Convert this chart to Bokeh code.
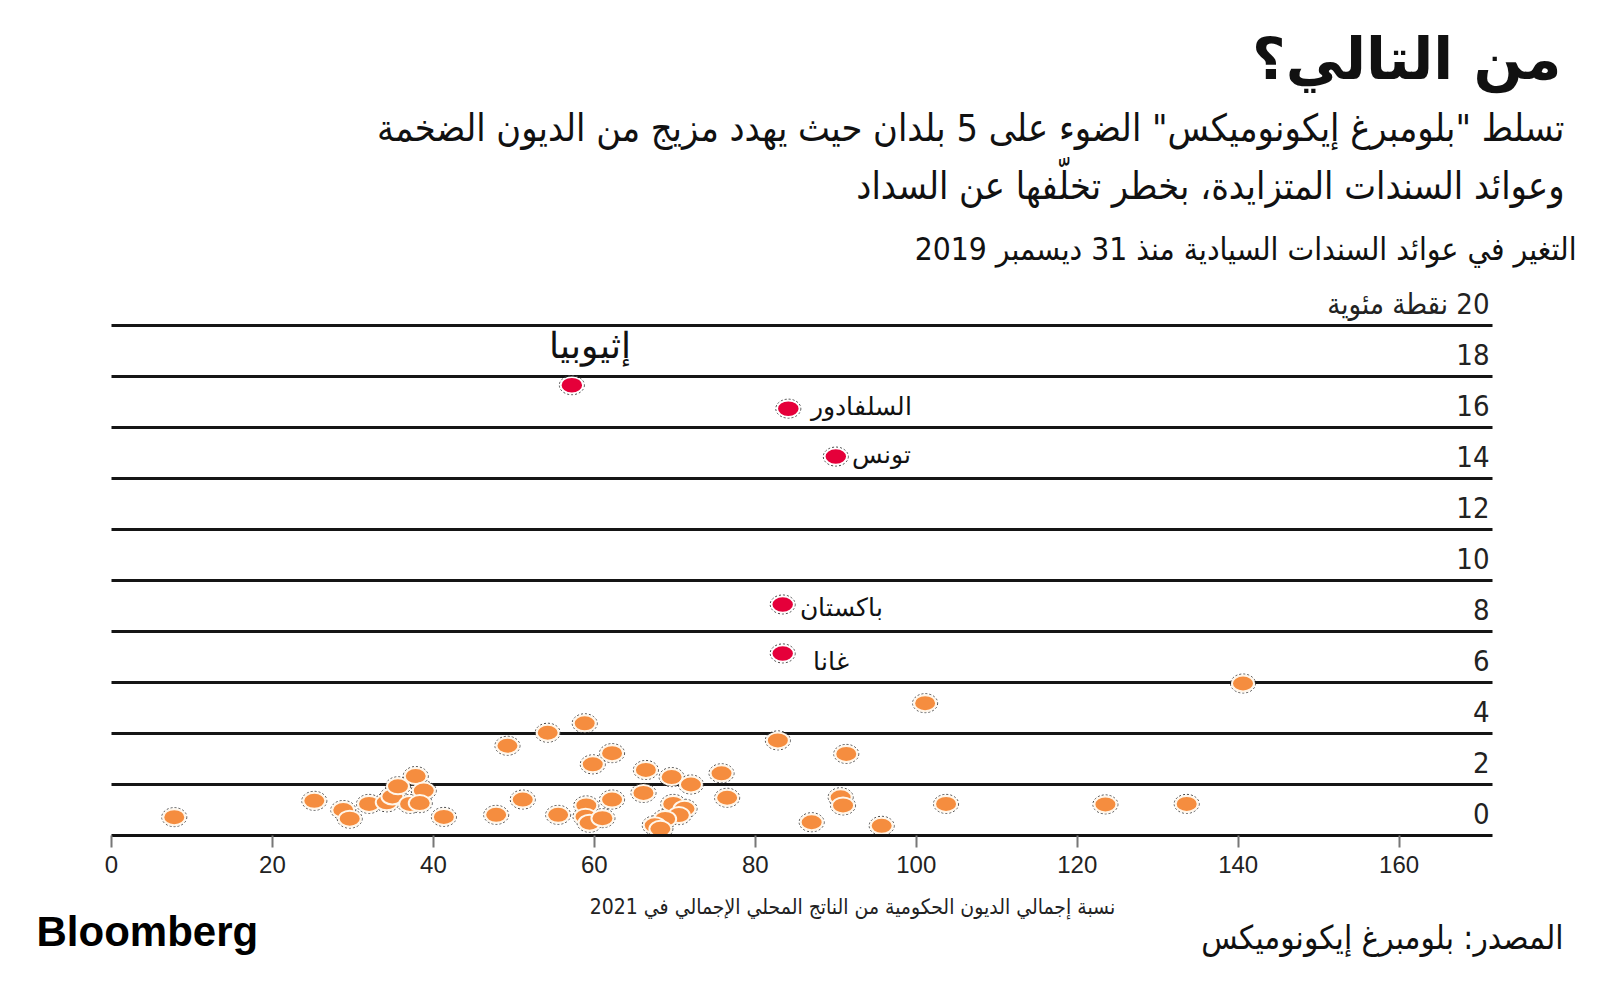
from bokeh.plotting import figure
from bokeh.models import Range1d, FixedTicker, ColumnDataSource
from bokeh.layouts import column
from bokeh.core.properties import value
from bokeh.embed import file_html
from bokeh.resources import INLINE

# ---------------- data ----------------
debt_other = [7.8, 25.2, 28.8, 29.6, 32.0, 34.2, 34.9, 35.6, 37.8, 38.8, 37.1, 38.3,
              41.3, 47.8, 49.2, 51.1, 54.2, 55.5, 58.8, 59.8, 62.2, 62.2, 59.0, 58.9,
              59.4, 61.0, 66.4, 69.6, 72.0, 66.1, 75.8, 76.5, 69.8, 71.2, 70.5, 68.8,
              67.5, 68.2, 82.8, 91.3, 90.6, 90.9, 87.0, 95.7, 101.1, 103.7, 123.5,
              133.6, 140.6]
yield_other = [0.72, 1.36, 1.00, 0.66, 1.24, 1.30, 1.53, 1.93, 2.33, 1.76, 1.24, 1.27,
               0.73, 0.81, 3.52, 1.41, 4.03, 0.81, 4.40, 2.79, 3.23, 1.41, 1.18, 0.74,
               0.50, 0.68, 2.57, 2.29, 2.00, 1.67, 2.44, 1.48, 1.24, 1.05, 0.80, 0.65,
               0.40, 0.26, 3.73, 3.20, 1.50, 1.18, 0.52, 0.38, 5.19, 1.24, 1.22,
               1.24, 5.96]

countries = ["إثيوبيا", "السلفادور", "تونس", "باكستان", "غانا"]
debt_hl = [57.2, 84.1, 90.0, 83.4, 83.4]
yield_hl = [17.66, 16.74, 14.86, 9.06, 7.14]

x_ticks = [0, 20, 40, 60, 80, 100, 120, 140, 160]
y_ticks = [0, 2, 4, 6, 8, 10, 12, 14, 16, 18, 20]
y_tick_labels = ["0", "2", "4", "6", "8", "10", "12", "14", "16", "18", "\u200f20 نقطة مئوية"]

title = "من التالي؟"
subtitle1 = "تسلط \"بلومبرغ إيكونوميكس\" الضوء على 5 بلدان حيث يهدد مزيج من الديون الضخمة"
subtitle2 = "وعوائد السندات المتزايدة، بخطر تخلّفها عن السداد"
chart_sub = "التغير في عوائد السندات السيادية منذ 31 ديسمبر 2019"
x_label = "نسبة إجمالي الديون الحكومية من الناتج المحلي الإجمالي في 2021"
source_txt = "المصدر: بلومبرغ إيكونوميكس"
brand = "Bloomberg"

# ---------------- layout constants ----------------
W = 1584
HDR_H = 282                 # header panel height
PLOT_L = 111                # page x of debt = 0
X_END = 171.6               # right end of the chart area (data units)
XPX = 1381 / X_END          # pixels per data unit in x
YPX = 25.5
FH = 553
Y_END = FH / YPX
MB = 50
MAIN_H = FH + MB
FTR_H = 85
FTR_TOP = HDR_H + MAIN_H

ORANGE = "#f58d3f"
RED = "#e5003a"
AR_COND = "DejaVu Sans Condensed"
AR_REG = "Noto Sans"


def text_panel(height):
    f = figure(width=W, height=height, output_backend="svg", toolbar_location=None,
               x_range=Range1d(0, W), y_range=Range1d(height, 0),
               x_axis_location=None, y_axis_location=None, min_border=0)
    f.xgrid.visible = False
    f.ygrid.visible = False
    f.outline_line_color = None
    f.background_fill_color = "white"
    f.border_fill_color = "white"
    return f


# ---------------- header ----------------
hdr = text_panel(HDR_H)
hdr.text(x=[1561], y=[58], text=[title], text_align="right", text_baseline="middle",
         text_font=value("DejaVu Sans"), text_font_size="58px", text_font_style="bold",
         text_color="#111111")
hdr.text(x=[1564, 1564], y=[127, 185], text=[subtitle1, subtitle2], text_align="right",
         text_baseline="middle", text_font=value(AR_COND), text_font_size="37.6px",
         text_color="#111111")
hdr.text(x=[1576], y=[248], text=[chart_sub], text_align="right", text_baseline="middle",
         text_font=value(AR_COND), text_font_size="31.5px", text_color="#111111")

# ---------------- main chart ----------------
p = figure(width=W, height=MAIN_H, output_backend="svg", toolbar_location=None,
           x_range=Range1d(-PLOT_L / XPX, (W - PLOT_L) / XPX),
           y_range=Range1d(0, Y_END),
           y_axis_location=None,
           min_border_left=0, min_border_right=0, min_border_top=0,
           min_border_bottom=MB)
p.outline_line_color = None
p.background_fill_color = "white"
p.border_fill_color = "white"
p.xgrid.visible = False
p.ygrid.visible = False

# horizontal rules at each y tick (above zero)
gy = y_ticks[1:]
p.segment(x0=[0] * len(gy), x1=[X_END] * len(gy), y0=gy, y1=gy,
          line_color="#151515", line_width=3)

ax = p.xaxis[0]
ax.ticker = FixedTicker(ticks=x_ticks)
ax.bounds = (0, X_END)
ax.axis_line_color = "#111111"
ax.axis_line_width = 3
ax.major_tick_line_color = "#777777"
ax.major_tick_line_width = 2
ax.major_tick_out = 12
ax.major_tick_in = 0
ax.minor_tick_line_color = None
ax.major_label_standoff = 8
ax.major_label_text_font = "Liberation Sans"
ax.major_label_text_font_size = "24px"
ax.major_label_text_color = "#222222"

ysrc = ColumnDataSource(dict(x=[X_END] * len(y_ticks), y=y_ticks, t=y_tick_labels))
p.text(x="x", y="y", text="t", source=ysrc, text_align="right",
       text_baseline="middle", x_offset=-3, y_offset=-22,
       text_font=value(AR_COND), text_font_size="29px", text_color="#222222")

osrc = ColumnDataSource(dict(x=debt_other, y=yield_other))
p.ellipse(x="x", y="y", width=25, height=19, width_units="screen",
          height_units="screen", source=osrc, fill_color=None,
          line_color="#444444", line_width=1, line_dash="2 2")
p.ellipse(x="x", y="y", width=22, height=16, width_units="screen",
          height_units="screen", source=osrc, fill_color=ORANGE,
          line_color="#fff6ea", line_width=2)

hsrc = ColumnDataSource(dict(x=debt_hl, y=yield_hl, name=countries,
                             xo=[-23, 23, 16, 17, 30], yo=[-41, -4, -4, 2, 7],
                             fs=["36px", "25px", "25px", "25px", "25px"]))
p.ellipse(x="x", y="y", width=25, height=19, width_units="screen",
          height_units="screen", source=hsrc, fill_color=None,
          line_color="#444444", line_width=1, line_dash="2 2")
p.ellipse(x="x", y="y", width=22, height=16, width_units="screen",
          height_units="screen", source=hsrc, fill_color=RED,
          line_color="#ffffff", line_width=1.5)
p.text(x="x", y="y", text="name", source=hsrc, x_offset="xo", y_offset="yo",
       text_align="left", text_baseline="middle", text_font=value(AR_REG),
       text_font_size="fs", text_color="#111111")

# ---------------- footer ----------------
ftr = text_panel(FTR_H)
ftr.text(x=[852], y=[906 - FTR_TOP], text=[x_label], text_align="center",
         text_baseline="middle", text_font=value(AR_COND), text_font_size="21px",
         text_color="#222222")
ftr.text(x=[1563], y=[937 - FTR_TOP], text=[source_txt], text_align="right",
         text_baseline="middle", text_font=value(AR_COND), text_font_size="33px",
         text_color="#111111")
ftr.text(x=[36], y=[931 - FTR_TOP], text=[brand], text_align="left",
         text_baseline="middle", text_font=value("Liberation Sans"),
         text_font_size="42px", text_font_style="bold", text_color="#000000")

layout = column(hdr, p, ftr, spacing=0)
open("out.html", "w").write(file_html(layout, INLINE))
